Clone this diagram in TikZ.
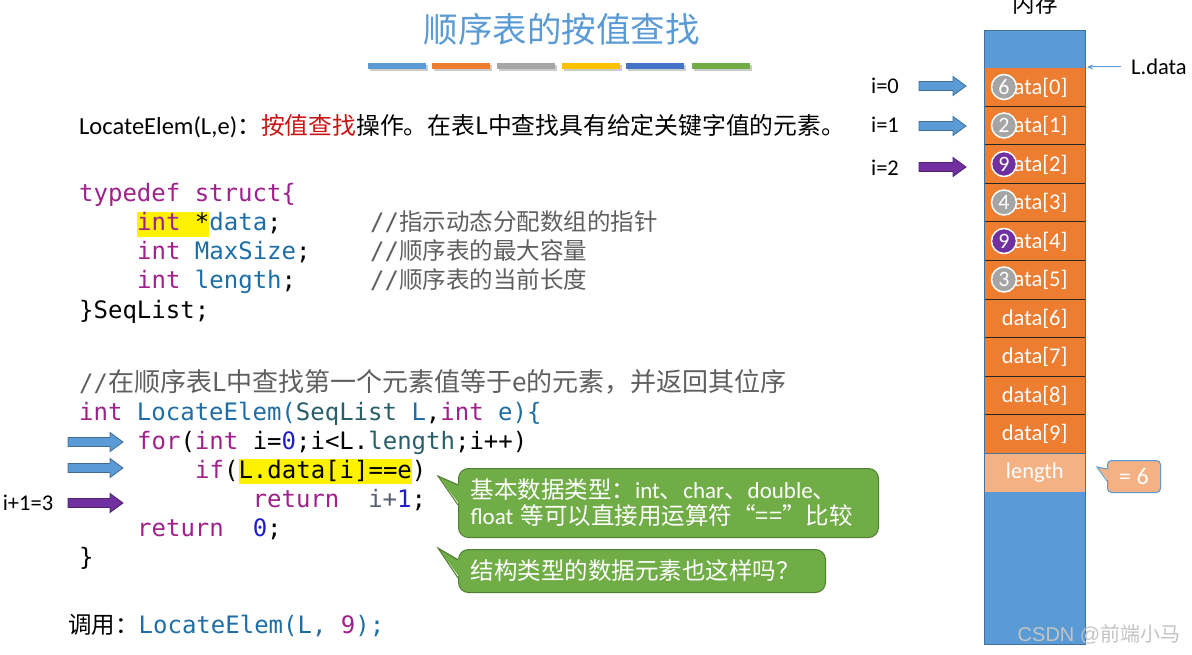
\documentclass[tikz,border=0pt]{standalone}
\usepackage{fontspec}
\setmainfont{Carlito}
\setmonofont{DejaVu Sans Mono}
\newfontfamily\cjk{Noto Sans CJK SC}
\newfontfamily\arialf{Liberation Sans}
\usetikzlibrary{arrows.meta}
\definecolor{kw}{RGB}{160,32,140}
\definecolor{idc}{RGB}{30,110,165}
\definecolor{numc}{RGB}{30,30,200}
\definecolor{tealc}{RGB}{40,95,105}
\definecolor{cmt}{RGB}{95,95,95}
\definecolor{slate}{RGB}{85,95,115}
\definecolor{blueC}{RGB}{91,155,213}
\definecolor{blueD}{RGB}{65,113,156}
\definecolor{orangeC}{RGB}{237,125,49}
\definecolor{lightO}{RGB}{244,177,131}
\definecolor{grayC}{RGB}{165,165,165}
\definecolor{goldC}{RGB}{255,192,0}
\definecolor{dblueC}{RGB}{68,114,196}
\definecolor{greenC}{RGB}{112,173,71}
\definecolor{greenD}{RGB}{80,126,50}
\definecolor{purpC}{RGB}{112,48,160}
\definecolor{redC}{RGB}{200,20,20}
\definecolor{wmC}{RGB}{195,195,195}
\newcommand\hlt[1]{{\setlength{\fboxsep}{0pt}\colorbox{yellow}{\rule[-6pt]{0pt}{25pt}#1}}}
\newcommand\cmtt[2]{\textcolor{cmt}{//{\cjk\fontsize{#1}{#1}\selectfont #2}}}
\newcommand\blockarrow[4]{\filldraw[fill=#4,draw=#4!70!black,line width=0.8pt] (#1,#3-4.5) -- (#2-13,#3-4.5) -- (#2-13,#3-9.5) -- (#2,#3) -- (#2-13,#3+9.5) -- (#2-13,#3+4.5) -- (#1,#3+4.5) -- cycle;}
\tikzset{
  code/.style={anchor=base west, inner sep=0pt, font=\ttfamily\fontsize{24}{29}\selectfont},
  lab/.style={inner sep=0pt, font=\fontsize{22.5}{26}\selectfont},
  cell/.style={anchor=north west, inner sep=0pt, minimum width=101pt, minimum height=38.5pt, fill=orangeC, text=white, font=\fontsize{22.5}{26}\selectfont},
  circ/.style={circle, inner sep=0pt, minimum size=25pt, draw=white, line width=1.5pt, text=white, font=\fontsize{22}{24}\selectfont},
  gbox/.style={anchor=north west, rounded corners=10pt, fill=greenC, draw=greenD, line width=1pt, text=white, align=left, inner xsep=12pt, font=\fontsize{23}{26}\selectfont},
}
\begin{document}
\begin{tikzpicture}[x=1pt,y=-1pt]
\useasboundingbox (0,0) rectangle (1192,655);
\fill[white] (0,0) rectangle (1192,655);
% title
\node[text=blueC, font=\cjk\fontsize{34.5}{40}\selectfont] (title) at (561.5,29) {顺序表的按值查找};
\foreach \a/\c in {368/blueC,432/orangeC,497/grayC,562/goldC,626/dblueC,692/greenC}{
  \fill[black!20] (\a+2,65.5) rectangle (\a+60,71.5);
  \fill[\c] (\a,63.5) rectangle (\a+58,69.5);
}
% description
\node[anchor=base west, inner sep=0pt, font=\fontsize{24.5}{28}\selectfont] (desc) at (79,135) {LocateElem(L,e){\cjk\fontsize{23.8}{28}\selectfont ：\textcolor{redC}{按值查找}操作。在表L中查找具有给定关键字值的元素。}};
% struct
\node[code] (s1) at (79,202) {\textcolor{kw}{typedef struct\{}};
\node[code] (s2) at (137,231) {\hlt{\textcolor{kw}{int} *}\textcolor{idc}{data};};
\node[code] (s3) at (137,260) {\textcolor{kw}{int} \textcolor{idc}{MaxSize};};
\node[code] (s4) at (137,289) {\textcolor{kw}{int} \textcolor{idc}{length};};
\node[code] (s5) at (79,318) {\}SeqList;};
\node[code] (m2) at (370,231) {\cmtt{23.5}{指示动态分配数组的指针}};
\node[code] (m3) at (370,260) {\cmtt{23.5}{顺序表的最大容量}};
\node[code] (m4) at (370,289) {\cmtt{23.5}{顺序表的当前长度}};
% function
\node[code] (f0) at (79,391) {\cmtt{26}{在顺序表L中查找第一个元素值等于e的元素，并返回其位序}};
\node[code] (f1) at (79,420) {\textcolor{kw}{int} \textcolor{idc}{LocateElem(}\textcolor{tealc}{SeqList} \textcolor{idc}{L},\textcolor{kw}{int} \textcolor{idc}{e)\{}};
\node[code] (f2) at (137,449) {\textcolor{kw}{for}(\textcolor{kw}{int} i=\textcolor{numc}{0};i<L.\textcolor{tealc}{length};i++)};
\node[code] (f3) at (195,478) {\textcolor{kw}{if}(\hlt{L.data[i]==e})};
\node[code] (f4) at (252.5,507) {\textcolor{kw}{return}\ \ \textcolor{slate}{i+}\textcolor{numc}{1};};
\node[code] (f5) at (137,536) {\textcolor{kw}{return}\ \ \textcolor{numc}{0};};
\node[code] (f6) at (79,565) {\}};
\node[code] (call) at (68,633) {{\cjk\fontsize{23.5}{28}\selectfont 调用：}\textcolor{idc}{LocateElem(L, }\textcolor{kw}{9}\textcolor{idc}{);}};
% code arrows
\blockarrow{68}{123}{442}{blueC}
\blockarrow{68}{123}{468}{blueC}
\blockarrow{68}{123}{503}{purpC}
\node[lab] (ires) at (28,503) {i+1=3};
% green callouts
\node[gbox, minimum width=420pt, minimum height=69pt, text width=396pt] (cb1) at (458,468) {{\cjk\fontsize{23.5}{26}\selectfont 基本数据类型：}int{\cjk\fontsize{23.5}{26}\selectfont 、}char{\cjk\fontsize{23.5}{26}\selectfont 、}double{\cjk\fontsize{23.5}{26}\selectfont 、}\\float {\cjk\fontsize{23.5}{26}\selectfont 等可以直接用运算符“==”比较}};
\coordinate (p1) at (438,476);
\fill[greenC] (460,485) -- (p1) -- (460,505) -- cycle;
\draw[greenD, line width=1pt] (458,485) -- (p1) -- (458,505);
\node[gbox, minimum width=367pt, minimum height=43pt, text width=343pt] (cb2) at (458,549) {{\cjk\fontsize{23.5}{26}\selectfont 结构类型的数据元素也这样吗？}};
\coordinate (p2) at (438,548);
\fill[greenC] (460,560) -- (p2) -- (460,578) -- cycle;
\draw[greenD, line width=1pt] (458,560) -- (p2) -- (458,578);
% memory column
\node[lab] (mem) at (1035,4) {\cjk 内存};
\node[anchor=north west, inner sep=0pt, minimum width=101pt, minimum height=38pt, fill=blueC] (memtop) at (984,30) {};
\foreach \k in {0,...,9} \node[cell] (c\k) at (984,68+38.5*\k) {data[\k]};
\node[cell, fill=lightO, draw=blueD, line width=0.6pt] (len) at (984,453) {length};
\node[anchor=north west, inner sep=0pt, minimum width=101pt, minimum height=152.5pt, fill=blueC] (membot) at (984,491.5) {};
\foreach \k in {1,...,9} \draw[black!85, line width=1pt] (984,68+38.5*\k) -- (1086,68+38.5*\k);
\draw[blueD, line width=0.8pt] (984,30) rectangle (1085,644);
\foreach \k/\v/\c in {0/6/grayC,1/2/grayC,2/9/purpC,3/4/grayC,4/9/purpC,5/3/grayC}
  \node[circ, fill=\c] (n\k) at (1004,87+38.5*\k) {\v};
% pointer label
\node[lab, anchor=west] (ldata) at (1131,67) {L.data};
\coordinate (ptr) at (1087,67);
\draw[blueC, line width=1pt, -{Stealth[length=6pt,width=5pt]}, shorten <=10pt] (ldata.west) -- (ptr);
% index arrows
\node[lab] (i0) at (885,86) {i=0};
\node[lab] (i1) at (885,125) {i=1};
\node[lab] (i2) at (885,168) {i=2};
\blockarrow{919}{966}{86}{blueC}
\blockarrow{919}{966}{126}{blueC}
\blockarrow{919}{966}{167}{purpC}
% length callout
\node[anchor=north west, rounded corners=4pt, fill=lightO, draw=blueC, line width=1pt, minimum width=53pt, minimum height=32pt, inner sep=0pt, text=white, font=\fontsize{24}{26}\selectfont] (eq6) at (1107,460) {= 6};
\coordinate (p3) at (1097,467);
\fill[lightO] (1108.5,469) -- (p3) -- (1108.5,481) -- cycle;
\draw[blueC, line width=1pt] (1107,469) -- (p3) -- (1107,481);
% watermark
\node[text=wmC, inner sep=0pt, font=\fontsize{20}{24}\selectfont] (wm) at (1099,634) {\arialf CSDN @{\cjk 前端小马}};
\end{tikzpicture}
\end{document}
